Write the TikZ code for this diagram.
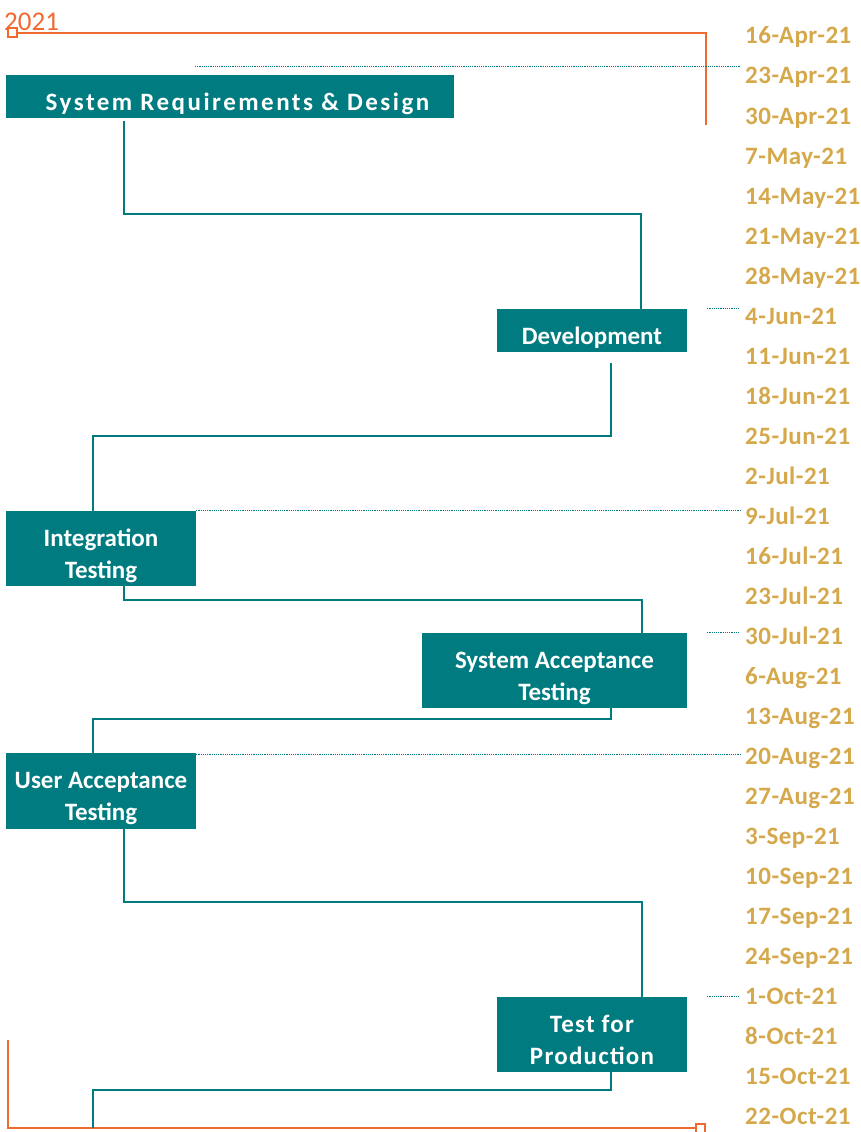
\documentclass[tikz,border=0pt]{standalone}
\usepackage{fontspec}
\setmainfont{Carlito}
\definecolor{phaseteal}{HTML}{007B80}
\definecolor{dategold}{HTML}{D4A84B}
\definecolor{yearorange}{HTML}{F0692E}
\tikzset{
  phase/.style={fill=phaseteal, text=white, inner sep=0pt, align=center,
    text height=32pt, text depth=5pt,
    font=\bfseries\fontsize{25}{32}\selectfont},
  phase2/.style={phase, text height=66pt, text depth=7pt},
  link/.style={draw=phaseteal, line width=2.2pt},
  guide/.style={draw=phaseteal, line width=1.2pt, densely dotted, shorten >=5pt},
  datelbl/.style={anchor=base west, inner sep=0pt, text=dategold,
    font=\bfseries\fontsize{25}{30}\selectfont\addfontfeature{LetterSpace=2}},
  frame/.style={draw=yearorange, line width=2.2pt},
  corner/.style={draw=yearorange, fill=white, line width=2pt, minimum size=9pt, inner sep=0pt}
}
\begin{document}
\begin{tikzpicture}[x=1pt,y=-1pt]
  \useasboundingbox (0,0) rectangle (861,1132);
  % year frame
  \node[anchor=base west, inner sep=0pt, text=yearorange, font=\fontsize{27}{27}\selectfont]
    (year) at (4,31) {2021};
  \coordinate (ytop) at (706,125);
  \coordinate (ybot) at (8,1040);
  \coordinate (tend) at (93,1128);
  \draw[frame] (12,33) -| (ytop);
  \draw[frame] (ybot) |- (700,1128);
  \node[corner] (ystart) at (12,33) {};
  \node[corner] (yend) at (700,1128) {};
  % dates
  \foreach \d [count=\i from 0] in {16-Apr-21, 23-Apr-21, 30-Apr-21, 7-May-21, 14-May-21,
      21-May-21, 28-May-21, 4-Jun-21, 11-Jun-21, 18-Jun-21, 25-Jun-21, 2-Jul-21,
      9-Jul-21, 16-Jul-21, 23-Jul-21, 30-Jul-21, 6-Aug-21, 13-Aug-21, 20-Aug-21,
      27-Aug-21, 3-Sep-21, 10-Sep-21, 17-Sep-21, 24-Sep-21, 1-Oct-21, 8-Oct-21,
      15-Oct-21, 22-Oct-21}
    \node[datelbl] (d\i) at (745,{44+40*\i}) {\d};
  % phases
  \node[phase, minimum width=448, minimum height=43] (req) at (230,96.5)
    {\hspace*{15pt}\addfontfeature{LetterSpace=10}System Requirements \& Design};
  \node[phase, minimum width=190, minimum height=43] (dev) at (592,330.5) {Development};
  \node[phase2, minimum width=190, minimum height=75] (integ) at (101,548.5) {Integration\\Testing};
  \node[phase2, minimum width=265, minimum height=75] (sat) at (554.5,670.5) {System Acceptance\\Testing};
  \node[phase2, minimum width=190, minimum height=76] (uat) at (101,791) {User Acceptance\\Testing};
  \node[phase2, minimum width=190, minimum height=75] (tfp) at (592,1034.5)
    {\addfontfeature{LetterSpace=5}Test for\\\addfontfeature{LetterSpace=5}Production};
  % guides to dates
  \coordinate (g1) at ([shift={(-35,-8)}]req.north);
  \draw[guide] (g1) -- (g1 -| d1.west);
  \draw[guide] ([xshift=20pt]dev.north east) -- (dev.north east -| d7.west);
  \draw[guide] (integ.north east) -- (integ.north east -| d12.west);
  \draw[guide] ([xshift=20pt]sat.north east) -- (sat.north east -| d15.west);
  \draw[guide] ([yshift=-2pt]uat.north east) -- ([yshift=-2pt]uat.north east -| d18.west);
  \draw[guide] ([xshift=20pt]tfp.north east) -- (tfp.north east -| d24.west);
  % links
  \draw[link, shorten <=3pt] ([xshift=-106pt]req.south) -- ++(0,96) -| ([xshift=49pt]dev.north);
  \draw[link, shorten <=11pt] ([xshift=19pt]dev.south) -- ++(0,84) -| ([xshift=-8pt]integ.north);
  \draw[link] ([xshift=23pt]integ.south) -- ++(0,14) -| ([xshift=87.5pt]sat.north);
  \draw[link] ([xshift=56.5pt]sat.south) -- ++(0,11) -| ([xshift=-8pt]uat.north);
  \draw[link] ([xshift=23pt]uat.south) -- ++(0,73) -| ([xshift=50pt]tfp.north);
  \draw[link] ([xshift=19pt]tfp.south) -- ++(0,18) -| (tend);
\end{tikzpicture}
\end{document}
